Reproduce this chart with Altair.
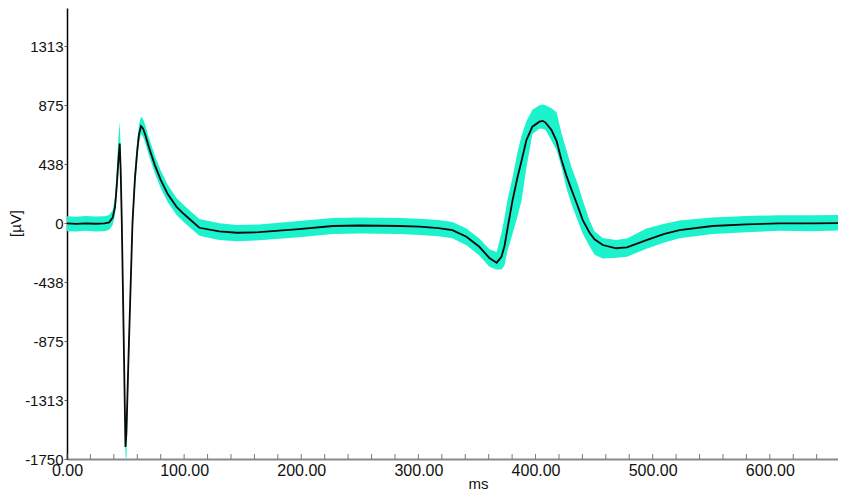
import altair as alt
import pandas as pd

# time (ms), mean trace (µV), envelope of the individual traces (µV)
ms = [0, 8, 16, 24, 32, 36, 39, 41, 42.5, 44, 45, 45.8, 46.8, 48.5, 49.9, 50.7, 52.5,
      55.9, 58, 60, 61.5, 63.2, 65, 67, 70, 75, 80, 86, 93.5, 100, 113, 130, 145, 164,
      198, 227, 250, 284, 301, 317, 329, 341, 352, 360.6, 366.8, 370.9, 373.5, 376.1,
      380.4, 384.6, 388, 392.2, 397.3, 403.3, 406.1, 408.5, 413.6, 417.9, 422.1, 426.4,
      430.6, 435.8, 440.3, 446, 450.3, 457.4, 468.8, 478, 494.7, 510, 522.9, 551, 580,
      608, 636, 658.2]
mean_uv = [-3, -6, -2, -5, -3, 5, 40, 120, 280, 480, 590, 400, 0, -900, -1660, -1560, -1000,
           0, 330, 540, 660, 719, 700, 650, 560, 430, 320, 215, 120, 65, -35, -62, -72, -68,
           -45, -22, -18, -22, -27, -38, -52, -101, -176, -259, -294, -250, -170, -40,
           170, 340, 460, 615, 715, 752, 758, 745, 690, 610, 470, 350,
           250, 130, 22, -70, -120, -163, -187, -180, -126, -80, -52, -22, -10,
           -2, -3, 0]
band_lo = [-60, -62, -58, -62, -60, -50, -15, 60, 200, 380, 480, 300, -100, -1000, -1720, -1770, -1120,
           -100, 250, 470, 600, 660, 640, 590, 500, 370, 260, 155, 60, 5, -95, -125, -135, -128,
           -105, -82, -78, -82, -88, -98, -112, -165, -240, -325, -345, -345, -315, -205,
           -80, 50, 165, 410, 660, 700, 700, 690, 610, 541, 415, 259,
           141, 22, -80, -170, -235, -262, -258, -250, -190, -145, -112, -82, -68,
           -58, -60, -55]
band_hi = [50, 47, 52, 48, 50, 60, 95, 190, 400, 650, 750, 560, 120, -800, -1600, -1480, -900,
           80, 420, 620, 730, 790, 770, 720, 630, 500, 390, 285, 185, 130, 30, -2, -15, -10,
           15, 38, 42, 38, 32, 22, 8, -40, -115, -195, -215, -74, 40, 175,
           340, 525, 645, 755, 840, 874, 880, 874, 852, 822, 667, 541,
           415, 296, 170, 22, -60, -110, -126, -115, -40, -5, 18, 42, 52,
           58, 58, 60]

x_tick_ms = list(range(0, 651, 20))
x_label_ms = [0, 100, 200, 300, 400, 500, 600]
y_tick_uv = [-1750, -1312.5, -875, -437.5, 0, 437.5, 875, 1312.5]

df = pd.DataFrame({"ms": ms, "mean": mean_uv, "lo": band_lo, "hi": band_hi})
ticks_df = pd.DataFrame({"ms": x_tick_ms})

FONT = "Liberation Sans"
xs = alt.Scale(domain=[0, 658.2], nice=False, zero=False)
ys = alt.Scale(domain=[-1750, 1595], nice=False, zero=False)

x_axis = alt.Axis(values=x_label_ms, format=".2f", labelFlush=False, grid=False,
                  domainColor="#8a8a8a", domainWidth=2, ticks=False, labelPadding=3,
                  labelFontSize=16, labelFont=FONT, labelColor="#111",
                  title="ms", titleFontSize=15, titleFont=FONT, titleFontWeight="normal",
                  titleColor="#111", titleX=411, titleY=29, titleAlign="center",
                  titleBaseline="alphabetic")
y_axis = alt.Axis(values=y_tick_uv, grid=False,
                  labelExpr="(datum.value < 0 ? '-' : '') + format(abs(datum.value), '.0f')",
                  domainColor="#000", domainWidth=1.5, tickColor="#666", tickSize=3,
                  labelPadding=1, labelFontSize=15, labelFont=FONT, labelColor="#111",
                  title="[µV]", titleFontSize=15, titleFont=FONT, titleFontWeight="normal",
                  titleColor="#111", titleX=-52, titleY=215, titleAngle=270,
                  titleAlign="center", titleBaseline="middle")

band = alt.Chart(df).mark_area(color="#1cf2cc", opacity=1, clip=True).encode(
    x=alt.X("ms:Q", scale=xs, axis=x_axis),
    y=alt.Y("lo:Q", scale=ys, axis=y_axis),
    y2="hi:Q",
)
line = alt.Chart(df).mark_line(color="#0a0a0a", strokeWidth=1.8, clip=True).encode(
    x=alt.X("ms:Q", scale=xs, axis=x_axis),
    y=alt.Y("mean:Q", scale=ys, axis=y_axis),
)
ticks = alt.Chart(ticks_df).mark_rule(color="#777", strokeWidth=1).encode(
    x=alt.X("ms:Q", scale=xs, axis=x_axis),
    y=alt.value(446),
    y2=alt.value(451),
)

chart = alt.layer(band, line, ticks).properties(
    width=771, height=451,
    autosize=alt.AutoSizeParams(type="none"),
    padding={"left": 59, "top": 0, "right": 0, "bottom": 33},
).configure_view(stroke=None)

chart.save("out.html", embed_options={"renderer": "svg", "actions": False})
